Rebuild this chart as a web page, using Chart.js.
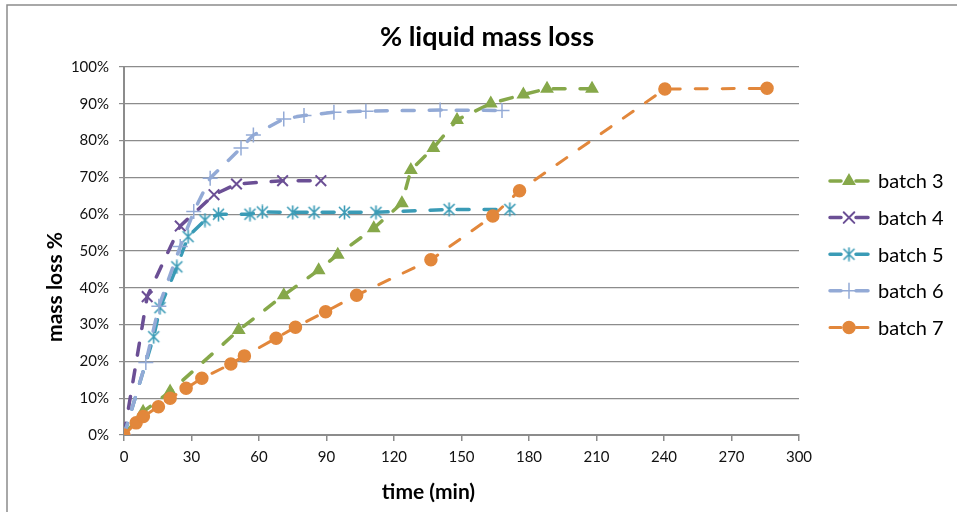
<!DOCTYPE html>
<html>
<head>
<meta charset="utf-8">
<title>% liquid mass loss</title>
<script src="https://cdn.jsdelivr.net/npm/chart.js@4/dist/chart.umd.min.js"></script>
<style>
  body { margin: 0; background: #fff; }
  #chart { display: block; }
</style>
</head>
<body>
<canvas id="chart" width="957" height="512"></canvas>
<script>
// time in minutes, mass loss in percent
const time3 = [0, 8.5, 20.5, 51, 71, 86.5, 95, 111, 123.5, 127.5, 137.5, 148, 163, 177.5, 188, 208];
const loss3 = [0, 6.3, 11.8, 28.5, 38, 44.8, 49, 56.2, 63, 72, 78, 85.6, 90.1, 92.5, 94.1, 94.1];

const time4 = [0, 10.3, 25, 40, 50, 70.5, 87.5];
const loss4 = [0, 37.6, 56.8, 65.3, 68.2, 69.1, 69.1];

const time5 = [0, 13.2, 16, 23.5, 28.5, 36, 42, 56, 61.5, 75, 84.5, 98, 112, 144.5, 171.5];
const loss5 = [0, 26.7, 34.6, 45.7, 53.9, 58.4, 60, 60, 60.6, 60.5, 60.5, 60.5, 60.5, 61.3, 61.3];

const time6 = [0, 9.7, 15.5, 25, 31, 38.3, 52, 57.5, 71, 80, 93.3, 107.5, 140.5, 168];
const loss6 = [0, 19.7, 35, 51.2, 60.7, 69.8, 78, 81.5, 85.9, 86.8, 87.7, 88, 88.3, 88.2];

const time7 = [0, 5.4, 8.6, 15.3, 20.5, 27.6, 34.6, 47.5, 53.5, 67.6, 76.2, 89.6, 103.4, 136.4, 163.9, 175.8, 240.4, 285.8];
const loss7 = [0, 3.3, 5, 7.7, 10, 12.7, 15.4, 19.3, 21.5, 26.3, 29.3, 33.5, 38, 47.6, 59.5, 66.4, 94, 94.2];

const seriesNames = ["batch 3", "batch 4", "batch 5", "batch 6", "batch 7"];
const xTicks = [0, 30, 60, 90, 120, 150, 180, 210, 240, 270, 300];
const yTicks = [0, 10, 20, 30, 40, 50, 60, 70, 80, 90, 100];

const FONT = "Lato, 'Open Sans', sans-serif";

// asterisk marker (x with a vertical bar)
function asterisk(color) {
  let c = document.createElement("canvas");
  c.width = 15;
  c.height = 15;
  let g = c.getContext("2d");
  g.strokeStyle = color;
  g.lineWidth = 1.6;
  g.beginPath();
  g.moveTo(2, 2); g.lineTo(13, 13);
  g.moveTo(13, 2); g.lineTo(2, 13);
  g.moveTo(7.5, 0.5); g.lineTo(7.5, 14.5);
  g.stroke();
  return c;
}

function pairs(xs, ys) {
  return xs.map((x, i) => ({ x: x, y: ys[i] }));
}

function series(label, xs, ys, color, style, extra) {
  return Object.assign({
    label: label,
    data: pairs(xs, ys),
    showLine: true,
    borderColor: color,
    backgroundColor: color,
    borderWidth: 3.5,
    borderDash: [12, 15],
    borderCapStyle: "round",
    tension: 0,
    pointStyle: style,
    pointRadius: 6,
    pointBorderWidth: 1.5,
    pointBorderColor: color,
    pointBackgroundColor: color,
  }, extra || {});
}

const datasets = [
  series(seriesNames[0], time3, loss3, "#86a84a", "triangle", { order: 5, pointRadius: 6.5 }),
  series(seriesNames[1], time4, loss4, "#6b4f95", "crossRot", { order: 4, pointRadius: 7.5, pointBorderWidth: 2 }),
  series(seriesNames[2], time5, loss5, "#3a9bb6", asterisk("#3a9bb6"), { order: 3 }),
  series(seriesNames[3], time6, loss6, "#93aad6", "cross", { order: 2, pointRadius: 7.5, pointBorderWidth: 1.5 }),
  series(seriesNames[4], time7, loss7, "#e2873b", "circle", { order: 1, pointRadius: 6, borderWidth: 3 }),
];

// frame, titles and the legend
const decorations = {
  id: "decorations",
  beforeDraw(chart) {
    let c = chart.ctx;
    c.save();
    c.fillStyle = "#fff";
    c.fillRect(0, 0, chart.width, chart.height);
    c.strokeStyle = "#8c8c8c";
    c.lineWidth = 1.5;
    c.beginPath();
    c.moveTo(7, chart.height);
    c.lineTo(7, 5);
    c.lineTo(chart.width, 5);
    c.stroke();
    c.restore();
  },
  afterDraw(chart) {
    let c = chart.ctx;
    let area = chart.chartArea;
    c.save();
    c.fillStyle = "#000";
    c.textAlign = "center";
    c.textBaseline = "middle";

    c.font = "bold 27px " + FONT;
    c.fillText("% liquid mass loss", 487, 37);

    c.font = "bold 21px " + FONT;
    c.fillText("time (min)", (area.left + area.right) / 2 - 33, 492);

    c.save();
    c.translate(55, 287);
    c.rotate(-Math.PI / 2);
    c.fillText("mass loss %", 0, 0);
    c.restore();

    // legend
    let helpers = Chart.helpers;
    c.font = "20px " + FONT;
    c.textAlign = "left";
    chart.data.datasets.forEach((ds, i) => {
      let y = 181 + i * 36.6;
      c.strokeStyle = ds.borderColor;
      c.lineWidth = ds.borderWidth;
      c.lineCap = "round";
      c.beginPath();
      c.moveTo(830, y); c.lineTo(841, y);
      c.moveTo(856, y); c.lineTo(868, y);
      c.stroke();
      c.fillStyle = ds.pointBackgroundColor;
      c.strokeStyle = ds.pointBorderColor;
      c.lineWidth = ds.pointBorderWidth;
      helpers.drawPoint(c, {
        pointStyle: ds.pointStyle,
        radius: ds.pointRadius,
        rotation: 0,
        borderWidth: ds.pointBorderWidth,
      }, 849, y);
      c.fillStyle = "#000";
      c.fillText(ds.label, 878, y + 1);
    });
    c.restore();
  },
};

new Chart(document.getElementById("chart"), {
  type: "scatter",
  data: { datasets: datasets },
  options: {
    responsive: false,
    animation: false,
    layout: { padding: { top: 67, right: 158, left: 0, bottom: 0 } },
    plugins: {
      legend: { display: false },
      title: { display: false },
      tooltip: { enabled: false },
    },
    scales: {
      x: {
        type: "linear",
        min: 0,
        max: 300,
        afterFit(scale) { scale.height = 77; },
        afterBuildTicks(scale) { scale.ticks = xTicks.map((v) => ({ value: v })); },
        ticks: { color: "#111", padding: 7, font: { family: FONT, size: 15 } },
        grid: { drawOnChartArea: false, drawTicks: true, tickLength: 6, color: "#8c8c8c", lineWidth: 1.5 },
        border: { color: "#8c8c8c", width: 2 },
      },
      y: {
        min: 0,
        max: 100,
        afterFit(scale) { scale.width = 124; },
        afterBuildTicks(scale) { scale.ticks = yTicks.map((v) => ({ value: v })); },
        ticks: {
          color: "#111",
          padding: 10,
          font: { family: FONT, size: 15 },
          callback: (v) => v + "%",
        },
        grid: { color: "#8c8c8c", lineWidth: 1.2, tickLength: 5 },
        border: { color: "#8c8c8c", width: 2 },
      },
    },
  },
  plugins: [decorations],
});
</script>
</body>
</html>
